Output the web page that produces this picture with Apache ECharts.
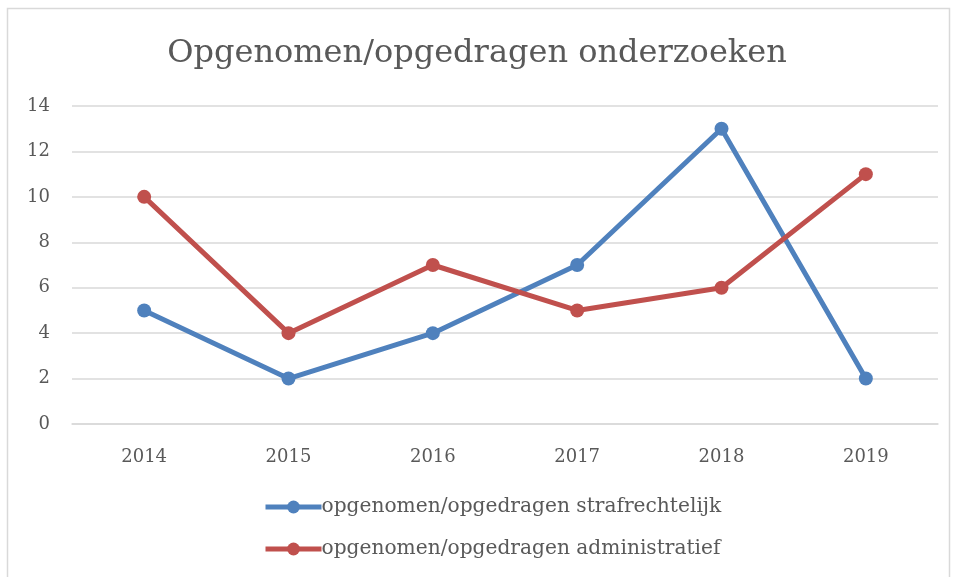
<!DOCTYPE html>
<html>
<head>
<meta charset="utf-8">
<script src="https://cdn.jsdelivr.net/npm/echarts@6/dist/echarts.min.js"></script>
<style>
  html, body { margin: 0; padding: 0; background: #fff; }
  #chart { width: 954px; height: 577px; }
</style>
</head>
<body>
<div id="chart"></div>
<script>
const years = ['2014', '2015', '2016', '2017', '2018', '2019']
const strafrechtelijk = [5, 2, 4, 7, 13, 2]
const administratief = [10, 4, 7, 5, 6, 11]

const serif = '"DejaVu Serif", "Liberation Serif", serif'
const textColor = '#595959'

const chart = echarts.init(document.getElementById('chart'))
chart.setOption({
  animation: false,
  color: ['#4f81bd', '#c0504d'],
  title: {
    text: 'Opgenomen/opgedragen onderzoeken',
    left: 'center',
    top: 33,
    textStyle: { fontFamily: serif, fontSize: 32, fontWeight: 'normal', color: textColor }
  },
  graphic: [{
    type: 'rect',
    shape: { x: 7.5, y: 8.5, width: 942, height: 580 },
    style: { fill: 'none', stroke: '#d9d9d9', lineWidth: 1.5 },
    silent: true
  }],
  grid: { left: 72, right: 16, top: 106, height: 318 },
  legend: {
    orient: 'vertical',
    left: 258,
    top: 492,
    itemWidth: 56,
    itemHeight: 16,
    itemGap: 22,
    lineStyle: { width: 5 },
    textStyle: { fontFamily: serif, fontSize: 20.2, color: textColor, padding: [0, 0, 0, -5] }
  },
  xAxis: {
    type: 'category',
    data: years,
    axisLine: { lineStyle: { color: '#d9d9d9', width: 1.5 } },
    axisTick: { show: false },
    axisLabel: { fontFamily: serif, fontSize: 18, color: textColor, margin: 24 }
  },
  yAxis: {
    type: 'value',
    min: 0,
    max: 14,
    interval: 2,
    axisLine: { show: false },
    axisTick: { show: false },
    splitLine: { lineStyle: { color: '#d9d9d9', width: 1.5 } },
    axisLabel: { fontFamily: serif, fontSize: 18, color: textColor, margin: 22 }
  },
  series: [
    {
      name: 'opgenomen/opgedragen strafrechtelijk',
      type: 'line',
      data: strafrechtelijk,
      symbol: 'circle',
      symbolSize: 14,
      lineStyle: { width: 5 }
    },
    {
      name: 'opgenomen/opgedragen administratief',
      type: 'line',
      data: administratief,
      symbol: 'circle',
      symbolSize: 14,
      lineStyle: { width: 5 }
    }
  ]
})
</script>
</body>
</html>
